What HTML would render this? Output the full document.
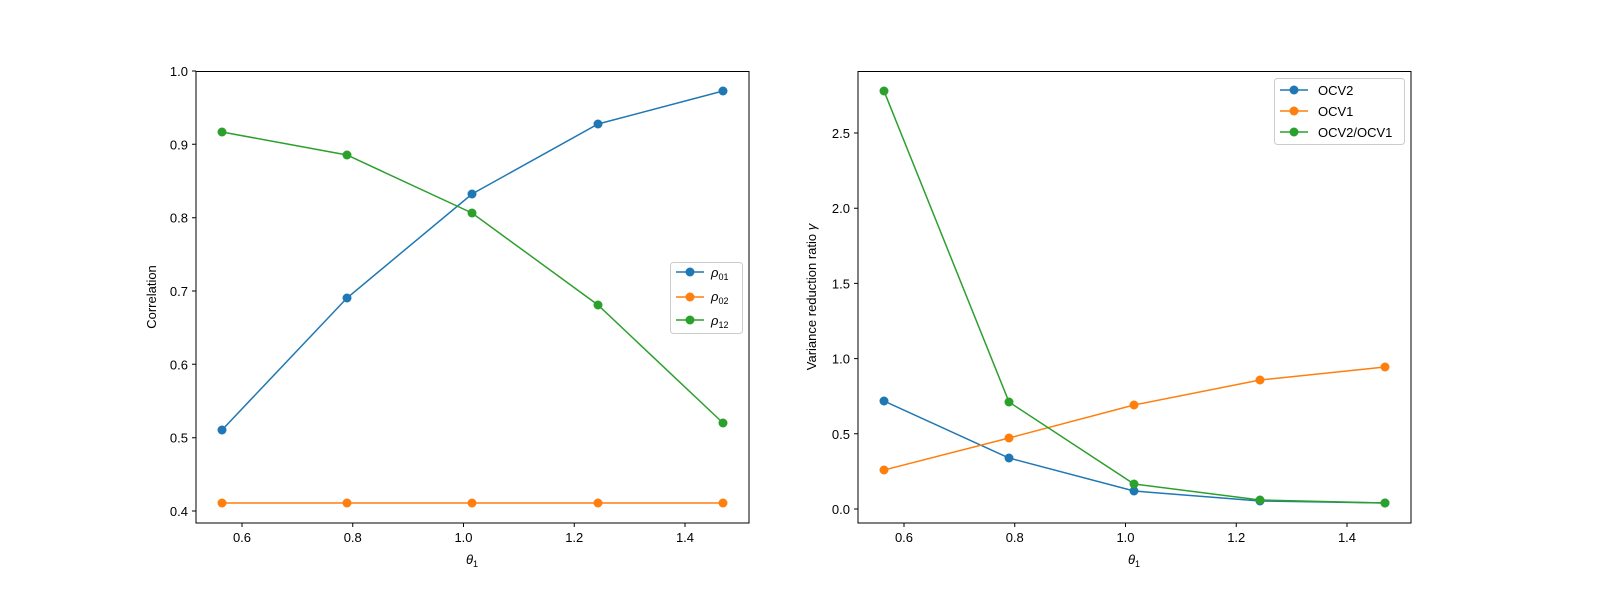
<!DOCTYPE html><html><head><style>body{margin:0;background:#fff}svg{display:block}text{font-family:"Liberation Sans","DejaVu Sans",sans-serif;font-size:13px;fill:#000}</style></head><body>
<svg width="1600" height="600" xmlns="http://www.w3.org/2000/svg">
<g stroke="#000" stroke-width="1">
<!-- left ticks -->
<path d="M242,523v4M352.75,523v4M463.5,523v4M574.25,523v4M685,523v4"/>
<path d="M196,511h-4M196,437.7h-4M196,364.3h-4M196,291h-4M196,217.7h-4M196,144.3h-4M196,71h-4"/>
<!-- right ticks -->
<path d="M904,523v4M1014.75,523v4M1125.5,523v4M1236.25,523v4M1347,523v4"/>
<path d="M858,509h-4M858,433.8h-4M858,358.6h-4M858,283.4h-4M858,208.2h-4M858,133h-4"/>
</g>
<g text-anchor="middle">
<text x="242" y="542">0.6</text><text x="352.75" y="542">0.8</text><text x="463.5" y="542">1.0</text><text x="574.25" y="542">1.2</text><text x="685" y="542">1.4</text>
<text x="904" y="542">0.6</text><text x="1014.75" y="542">0.8</text><text x="1125.5" y="542">1.0</text><text x="1236.25" y="542">1.2</text><text x="1347" y="542">1.4</text>
<text x="472" y="564" font-style="italic">θ<tspan font-size="9" dy="3" font-style="normal">1</tspan></text>
<text x="1134" y="564" font-style="italic">θ<tspan font-size="9" dy="3" font-style="normal">1</tspan></text>
</g>
<g text-anchor="end">
<text x="188" y="516">0.4</text><text x="188" y="442.7">0.5</text><text x="188" y="369.3">0.6</text><text x="188" y="296">0.7</text><text x="188" y="222.7">0.8</text><text x="188" y="149.3">0.9</text><text x="188" y="76">1.0</text>
<text x="850" y="514">0.0</text><text x="850" y="438.8">0.5</text><text x="850" y="363.6">1.0</text><text x="850" y="288.4">1.5</text><text x="850" y="213.2">2.0</text><text x="850" y="138">2.5</text>
</g>
<text transform="translate(156,297) rotate(-90)" text-anchor="middle">Correlation</text>
<text transform="translate(816,297) rotate(-90)" text-anchor="middle">Variance reduction ratio <tspan font-style="italic">γ</tspan></text>
<g fill="none" stroke-width="1.5">
<polyline stroke="#1f77b4" points="222,430 347,298 472,194 598,124 723,91"/>
<polyline stroke="#ff7f0e" points="222,503 347,503 472,503 598,503 723,503"/>
<polyline stroke="#2ca02c" points="222,132 347,155 472,213 598,305 723,423"/>
<polyline stroke="#1f77b4" points="884,401 1009,458 1134,491 1260,501 1385,503"/>
<polyline stroke="#ff7f0e" points="884,470 1009,438 1134,405 1260,380 1385,367"/>
<polyline stroke="#2ca02c" points="884,91 1009,402 1134,484 1260,500 1385,503"/>
</g>
<g fill="#1f77b4"><circle cx="222" cy="430" r="4.5"/><circle cx="347" cy="298" r="4.5"/><circle cx="472" cy="194" r="4.5"/><circle cx="598" cy="124" r="4.5"/><circle cx="723" cy="91" r="4.5"/></g>
<g fill="#ff7f0e"><circle cx="222" cy="503" r="4.5"/><circle cx="347" cy="503" r="4.5"/><circle cx="472" cy="503" r="4.5"/><circle cx="598" cy="503" r="4.5"/><circle cx="723" cy="503" r="4.5"/></g>
<g fill="#2ca02c"><circle cx="222" cy="132" r="4.5"/><circle cx="347" cy="155" r="4.5"/><circle cx="472" cy="213" r="4.5"/><circle cx="598" cy="305" r="4.5"/><circle cx="723" cy="423" r="4.5"/></g>
<g fill="#1f77b4"><circle cx="884" cy="401" r="4.5"/><circle cx="1009" cy="458" r="4.5"/><circle cx="1134" cy="491" r="4.5"/><circle cx="1260" cy="501" r="4.5"/><circle cx="1385" cy="503" r="4.5"/></g>
<g fill="#ff7f0e"><circle cx="884" cy="470" r="4.5"/><circle cx="1009" cy="438" r="4.5"/><circle cx="1134" cy="405" r="4.5"/><circle cx="1260" cy="380" r="4.5"/><circle cx="1385" cy="367" r="4.5"/></g>
<g fill="#2ca02c"><circle cx="884" cy="91" r="4.5"/><circle cx="1009" cy="402" r="4.5"/><circle cx="1134" cy="484" r="4.5"/><circle cx="1260" cy="500" r="4.5"/><circle cx="1385" cy="503" r="4.5"/></g>
<rect x="196" y="71.5" width="553" height="451.5" fill="none" stroke="#000"/>
<rect x="858" y="71.5" width="553" height="451.5" fill="none" stroke="#000"/>
<!-- left legend -->
<rect x="670.5" y="262.5" width="72" height="71" rx="3" fill="#fff" fill-opacity="0.8" stroke="#ccc"/>
<g stroke-width="1.5"><path d="M676,272h28" stroke="#1f77b4"/><path d="M676,297h28" stroke="#ff7f0e"/><path d="M676,320h28" stroke="#2ca02c"/></g>
<circle cx="690" cy="272" r="4.5" fill="#1f77b4"/><circle cx="690" cy="297" r="4.5" fill="#ff7f0e"/><circle cx="690" cy="320" r="4.5" fill="#2ca02c"/>
<text x="711" y="277" font-style="italic">ρ<tspan font-size="9" dy="3" font-style="normal">01</tspan></text>
<text x="711" y="301" font-style="italic">ρ<tspan font-size="9" dy="3" font-style="normal">02</tspan></text>
<text x="711" y="325" font-style="italic">ρ<tspan font-size="9" dy="3" font-style="normal">12</tspan></text>
<!-- right legend -->
<rect x="1274.5" y="78.5" width="130" height="66" rx="3" fill="#fff" fill-opacity="0.8" stroke="#ccc"/>
<g stroke-width="1.5"><path d="M1280,90h28" stroke="#1f77b4"/><path d="M1280,111h28" stroke="#ff7f0e"/><path d="M1280,132h28" stroke="#2ca02c"/></g>
<circle cx="1294" cy="90" r="4.5" fill="#1f77b4"/><circle cx="1294" cy="111" r="4.5" fill="#ff7f0e"/><circle cx="1294" cy="132" r="4.5" fill="#2ca02c"/>
<text x="1318" y="95">OCV2</text><text x="1318" y="116">OCV1</text><text x="1318" y="137">OCV2/OCV1</text>
</svg></body></html>
